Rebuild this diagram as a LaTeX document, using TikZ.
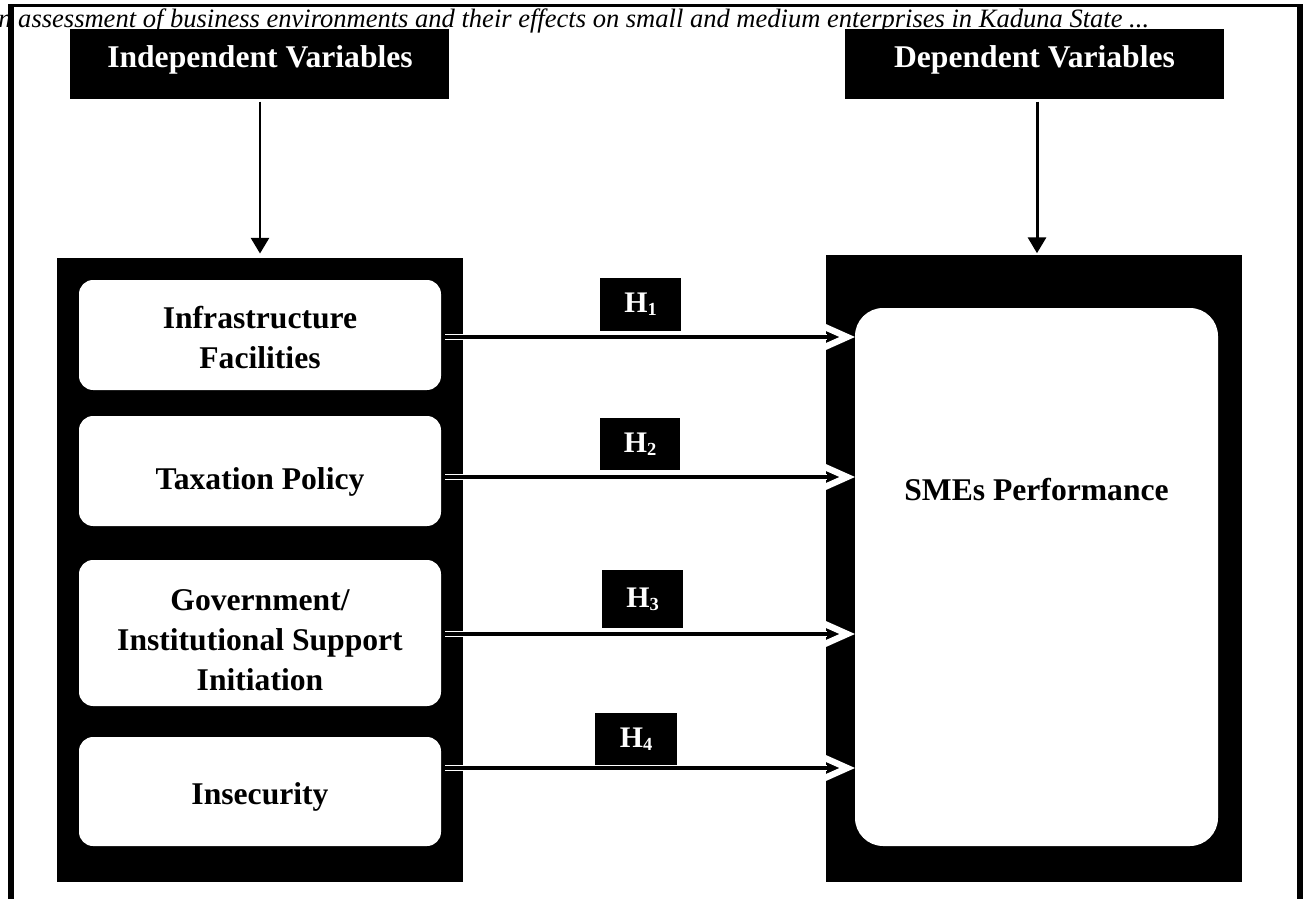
\documentclass[tikz,border=0pt]{standalone}
\usepackage{fontspec}
\setmainfont{Liberation Serif}
\usetikzlibrary{arrows.meta}
\begin{document}
\begin{tikzpicture}[x=0.02cm,y=-0.02cm,
  blackbox/.style={fill=black, draw=none, inner sep=0pt, outer sep=0pt},
  smallbox/.style={fill=white, draw=none, rounded corners=8pt, inner sep=0pt, outer sep=0pt},
  bigbox/.style={fill=white, draw=none, rounded corners=16pt, inner sep=0pt, outer sep=0pt},
  hdrtext/.style={text=white, font=\fontsize{18}{22}\selectfont\bfseries, inner sep=0pt},
  boxtext/.style={text=black, font=\fontsize{18}{22.8}\selectfont\bfseries, align=center, inner sep=0pt},
  hbox/.style={blackbox, text=white, font=\fontsize{17}{20}\selectfont\bfseries},
  titletext/.style={font=\fontsize{15.1}{18}\selectfont\itshape, inner sep=0pt},
  downarrow/.style={line width=1.7pt, -{Triangle[length=9pt, width=10.2pt]}},
  underlay/.style={white, line width=3.6pt, shorten <=2.3pt, shorten >=16pt},
  shaft/.style={black, line width=2.3pt, shorten <=2.3pt,
    -{Straight Barb[color=white, line width=3.6pt, length=14pt, width=12.5pt]}},
  sideborder/.style={line width=2.9pt},
  topborder/.style={line width=1.7pt}
]
\useasboundingbox (0,0) rectangle (1309,899);
% outer frame (open at the bottom)
\draw[topborder] (9,5.5) -- (1302,5.5);
\draw[sideborder] (11,4) -- (11,899);
\draw[sideborder] (1300,4) -- (1300,899);
% running head
\node[titletext, anchor=base west] (title) at (-2,28) {n assessment of business environments and their effects on small and medium enterprises in Kaduna State ...};
% headers
\node[blackbox, minimum width=379*0.02cm, minimum height=70*0.02cm] (hdrL) at (259.5,64) {};
\node[blackbox, minimum width=379*0.02cm, minimum height=70*0.02cm] (hdrR) at (1034.5,64) {};
\node[hdrtext] (hdrLt) at (260,59.5) {Independent Variables};
\node[hdrtext] (hdrRt) at (1034.5,59.5) {Dependent Variables};
% panels
\node[blackbox, minimum width=406*0.02cm, minimum height=624*0.02cm] (panelL) at (260,570) {};
\node[blackbox, minimum width=416*0.02cm, minimum height=627*0.02cm] (panelR) at (1034,568.5) {};
% left boxes
\node[smallbox, minimum width=362*0.02cm, minimum height=110*0.02cm] (b1) at (260,335) {};
\node[smallbox, minimum width=362*0.02cm, minimum height=110*0.02cm] (b2) at (260,471) {};
\node[smallbox, minimum width=362*0.02cm, minimum height=146*0.02cm] (b3) at (260,633) {};
\node[smallbox, minimum width=362*0.02cm, minimum height=109*0.02cm] (b4) at (260,791.5) {};
\node[boxtext] (b1t) at (260,337.5) {Infrastructure\\Facilities};
\node[boxtext] (b2t) at (260,482) {Taxation Policy};
\node[boxtext] (b3t) at (260,640) {Government/\\Institutional Support\\Initiation};
\node[boxtext] (b4t) at (260,797) {Insecurity};
% right box
\node[bigbox, minimum width=363*0.02cm, minimum height=538*0.02cm] (sme) at (1036.5,577) {};
\node[boxtext] (smet) at (1036.5,490) {SMEs Performance};
% down arrows
\coordinate (dL) at (260,0);
\coordinate (dR) at (1037,0);
\draw[downarrow, shorten <=1.5pt, shorten >=2.5pt] (hdrL.south -| dL) -- (panelL.north -| dL);
\draw[downarrow, shorten <=1.5pt, shorten >=1pt] (hdrR.south -| dR) -- (panelR.north -| dR);
% hypothesis arrows
\coordinate (y1) at (0,337);
\coordinate (y2) at (0,477);
\coordinate (y3) at (0,634);
\coordinate (y4) at (0,768);
\foreach \b/\y in {b1/y1,b2/y2,b3/y3,b4/y4}{
  \draw[underlay] (\b.east |- \y) -- (sme.west |- \y);
  \draw[shaft] (\b.east |- \y) -- (sme.west |- \y);
}
% hypothesis labels
\node[hbox, minimum width=81*0.02cm, minimum height=53*0.02cm] (h1) at (640.5,304.5) {H\raisebox{-1.6pt}{\fontsize{10.5}{10.5}\selectfont 1}};
\node[hbox, minimum width=80*0.02cm, minimum height=52*0.02cm] (h2) at (640,444) {H\raisebox{-1.6pt}{\fontsize{10.5}{10.5}\selectfont 2}};
\node[hbox, minimum width=81*0.02cm, minimum height=58*0.02cm] (h3) at (642.5,599) {H\raisebox{-1.6pt}{\fontsize{10.5}{10.5}\selectfont 3}};
\node[hbox, minimum width=82*0.02cm, minimum height=52*0.02cm] (h4) at (636,739) {H\raisebox{-1.6pt}{\fontsize{10.5}{10.5}\selectfont 4}};
\end{tikzpicture}
\end{document}
